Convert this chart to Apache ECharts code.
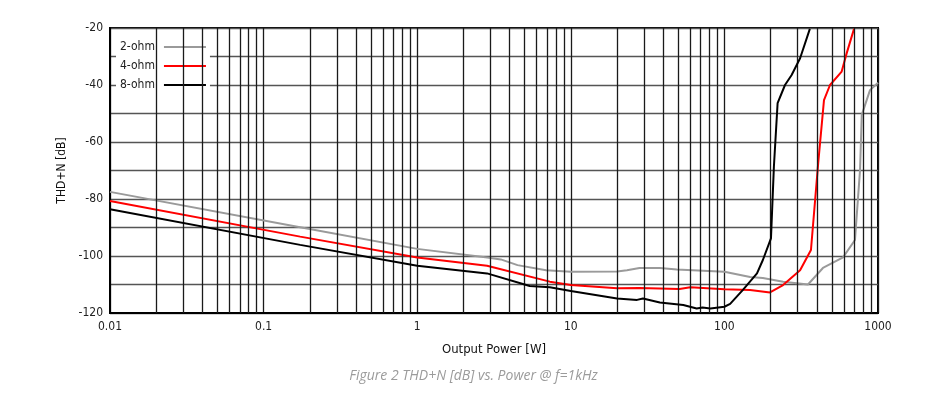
<!DOCTYPE html>
<html><head><meta charset="utf-8">
<script src="https://cdn.jsdelivr.net/npm/echarts@6/dist/echarts.min.js"></script>
<style>html,body{margin:0;padding:0;background:#fff}#c{width:947px;height:400px}</style>
</head><body><div id="c"></div>
<script>
// ---- data ----
const seriesNames = ['2-ohm', '4-ohm', '8-ohm'];
const power2 = [0.01, 0.173, 1, 2.86, 3.5, 4.5, 6.9, 10, 20, 23.2, 28, 38, 49, 100, 147, 178, 241, 350, 438, 592, 708, 764, 784, 887, 1000];
const thd2   = [-77.5, -89.9, -97.5, -100.5, -101.2, -103.2, -105, -105.5, -105.4, -105, -104.2, -104.2, -104.7, -105.5, -107.4, -107.7, -109, -110, -104.2, -100.5, -94.4, -69.8, -50.5, -41.8, -39.2];
const power4 = [0.01, 0.173, 1, 2.85, 7.3, 10, 20, 28, 51, 60, 100, 147, 198, 241, 311, 366, 408, 445, 487, 580, 625, 698];
const thd4   = [-80.7, -93.2, -100.5, -103.4, -109, -110.2, -111.3, -111.2, -111.6, -111, -111.7, -111.9, -112.8, -110.2, -105, -97.9, -67.4, -45.3, -40, -35.3, -28.9, -20.3];
const power8 = [0.01, 0.173, 1, 2.85, 5.4, 7.3, 10, 20, 27, 29.5, 38, 54, 66, 72, 81, 100, 109, 132, 163, 178, 201, 210, 222, 248, 274, 311, 360];
const thd8   = [-83.6, -96.1, -103.4, -106.1, -110.5, -111, -112.3, -114.9, -115.4, -114.9, -116.3, -117.2, -118.4, -118.1, -118.4, -117.8, -116.8, -111.9, -106.1, -101.4, -93.8, -68.7, -46.4, -40, -36.5, -30.6, -20.3];
const decades = [0.01, 0.1, 1, 10, 100];
const multipliers = [2, 3, 4, 5, 6, 7, 8, 9];
const yMin = -120, yMax = -20, yStep = 10, yLabelStep = 20;
const xMin = 0.01, xMax = 1000;
const captionText = 'Figure 2 THD+N [dB] vs. Power @ f=1kHz';

// ---- build ----
const zip = (a, b) => a.map((v, i) => [v, b[i]]);
const minorX = [];
decades.forEach(d => multipliers.forEach(m => minorX.push({ xAxis: +(d * m).toPrecision(3) })));
const font = '"Liberation Sans Narrow","DejaVu Sans Condensed","Roboto Condensed",sans-serif';
const colors = ['#9a9a9a', '#ff0000', '#000000'];

const chart = echarts.init(document.getElementById('c'), null, { renderer: 'canvas' });
chart.setOption({
  animation: false,
  title: {
    text: captionText, left: 'center', top: 364,
    textStyle: { fontFamily: '"Open Sans", Roboto, sans-serif', fontStyle: 'italic', fontWeight: 'normal', fontSize: 14, color: '#9b9b9b' }
  },
  legend: {
    data: seriesNames, orient: 'vertical', left: 116, top: 36, align: 'right',
    icon: 'rect', itemWidth: 42, itemHeight: 2, itemGap: 7,
    backgroundColor: '#fff', padding: [5, 4, 5, 4],
    textStyle: { fontFamily: font, fontSize: 12, color: '#222', padding: [0, 4, 0, 0] }
  },
  grid: { left: 110, right: 69, top: 28, bottom: 87, show: true, borderColor: '#000', borderWidth: 2, backgroundColor: 'transparent' },
  xAxis: {
    type: 'log', logBase: 10, min: xMin, max: xMax,
    name: 'Output Power [W]', nameLocation: 'middle', nameGap: 30,
    nameTextStyle: { fontFamily: font, fontSize: 13, color: '#111' },
    axisLine: { show: true, lineStyle: { color: '#000', width: 2 } },
    axisTick: { show: false },
    axisLabel: { fontFamily: font, fontSize: 12, color: '#222', margin: 8, formatter: v => String(+(+v).toPrecision(3)) },
    splitLine: { show: true, lineStyle: { color: '#1a1a1a', width: 1.3 } },
    minorTick: { show: false }, minorSplitLine: { show: false }
  },
  yAxis: {
    type: 'value', min: yMin, max: yMax, interval: yStep,
    name: 'THD+N [dB]', nameLocation: 'middle', nameGap: 38,
    nameTextStyle: { fontFamily: font, fontSize: 12, color: '#111' },
    axisLine: { show: true, lineStyle: { color: '#000', width: 2 } },
    axisTick: { show: false },
    axisLabel: { fontFamily: font, fontSize: 12, color: '#222', margin: 7, formatter: v => (v % yLabelStep === 0 ? String(v) : '') },
    splitLine: { show: true, lineStyle: { color: '#555', width: 1.3 } }
  },
  series: [
    { name: seriesNames[0], type: 'line', data: zip(power2, thd2), symbol: 'none', color: colors[0], lineStyle: { width: 2, color: colors[0] }, z: 3,
      markLine: { silent: true, symbol: 'none', label: { show: false }, animation: false, lineStyle: { color: '#1a1a1a', width: 1.3, type: 'solid' }, emphasis: { disabled: true }, data: minorX } },
    { name: seriesNames[1], type: 'line', data: zip(power4, thd4), symbol: 'none', color: colors[1], lineStyle: { width: 2, color: colors[1] }, z: 4 },
    { name: seriesNames[2], type: 'line', data: zip(power8, thd8), symbol: 'none', color: colors[2], lineStyle: { width: 2, color: colors[2] }, z: 5 }
  ]
});
</script></body></html>
